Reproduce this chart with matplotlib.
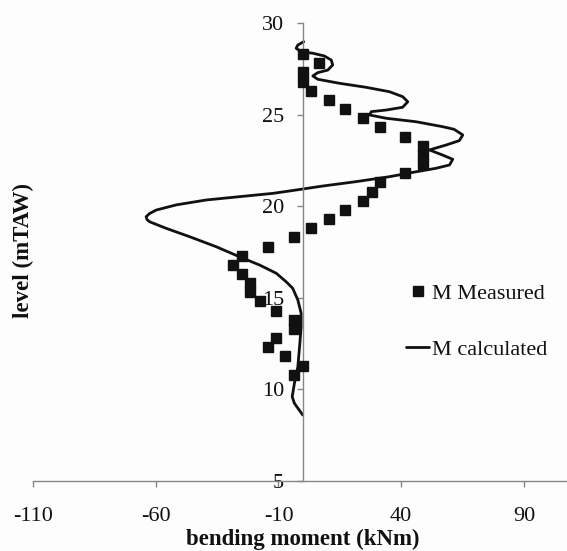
import matplotlib
matplotlib.use("Agg")
import matplotlib.pyplot as plt

# Measured bending moment (kNm) vs level (mTAW)
meas_level = [28.3, 27.8, 27.3, 26.8, 26.3, 25.8, 25.3, 24.8, 24.3, 23.8, 23.3, 22.8,
              22.3, 21.8, 21.3, 20.8, 20.3, 19.8, 19.3, 18.8, 18.3, 17.8, 17.3, 16.8,
              16.3, 15.8, 15.3, 14.8, 14.3, 13.8, 13.3, 12.8, 12.3, 11.8, 11.3, 10.8]
meas_moment = [0.0, 6.7, 0.0, 0.0, 3.3, 10.4, 17.3, 24.3, 31.4, 41.7, 48.9, 48.9,
               48.9, 41.7, 31.4, 28.0, 24.3, 17.3, 10.4, 3.3, -3.8, -14.4, -24.8, -28.5,
               -24.8, -21.4, -21.4, -17.7, -10.8, -3.8, -3.8, -10.8, -14.4, -7.3, 0.0, -3.8]

# Calculated bending moment curve
calc_level = [28.98, 28.8, 28.62, 28.43, 28.35, 28.2, 27.98, 27.71, 27.43, 27.29, 27.11,
              26.93, 26.71, 26.49, 26.25, 25.98, 25.7, 25.4, 25.25, 25.16, 24.98, 24.8,
              24.61, 24.34, 24.2, 23.89, 23.58, 23.34, 23.07, 22.79, 22.56, 22.25, 22.07,
              21.88, 21.61, 21.34, 21.1, 20.85, 20.7, 20.52, 20.34, 20.07, 19.79, 19.6,
              19.43, 19.28, 19.15, 18.79, 18.34, 17.79, 17.24, 16.79, 16.34, 15.88, 15.52,
              14.88, 14.15, 13.42, 12.33, 11.24, 10.33, 9.6, 9.24, 8.6]
calc_moment = [0.3, -2.1, -2.8, -0.75, 4.0, 8.7, 11.5, 12.1, 10.1, 6.0, 4.0,
               6.0, 14.8, 25.7, 35.2, 40.6, 42.7, 40.6, 33.9, 27.8, 27.1, 33.9,
               46.1, 56.9, 61.5, 65.1, 63.7, 58.3, 51.5, 56.9, 61.0, 59.7, 54.2,
               46.1, 35.2, 21.6, 8.0, -4.5, -12.3, -25.9, -39.4, -51.7, -59.8, -62.5,
               -63.9, -63.6, -62.5, -55.7, -46.3, -35.4, -25.9, -17.7, -10.9, -6.9, -4.2,
               -2.1, -0.75, -0.75, -1.4, -2.1, -3.5, -4.4, -3.5, -0.1]

x_ticks = [-110, -60, -10, 40, 90]
y_ticks = [5, 10, 15, 20, 25, 30]

plt.rcParams['font.family'] = ['Liberation Serif', 'DejaVu Serif']
plt.rcParams['axes.unicode_minus'] = False

W, H = 567, 551
fig = plt.figure(figsize=(W / 100, H / 100), dpi=100)
fig.patch.set_facecolor('#fdfdfd')

ax = fig.add_axes([33 / W, (H - 481) / H, 540 / W, 458 / H])
ax.set_facecolor('#fdfdfd')

ax.plot(meas_moment, meas_level, linestyle='none', marker='s', markersize=6.8,
        color='#111111', label='M Measured', zorder=3)
ax.plot(calc_moment, calc_level, color='#111111', linewidth=2.0,
        solid_joinstyle='round', solid_capstyle='round', label='M calculated', zorder=2)

ax.set_xlim(-110, 110)
ax.set_ylim(5, 30)
ax.set_xticks(x_ticks)
ax.set_yticks(y_ticks)

for s in ['top', 'right']:
    ax.spines[s].set_visible(False)
ax.spines['left'].set_position(('data', 0))
for s in ['left', 'bottom']:
    ax.spines[s].set_color('#878787')
    ax.spines[s].set_linewidth(1.0)

ax.tick_params(axis='both', colors='#878787', labelcolor='#111111', labelsize=16,
               length=4.5, width=1.0, direction='out')
ax.tick_params(axis='y', pad=9)
ax.tick_params(axis='x', pad=14)

fig.text(303 / W, 1 / H, 'bending moment (kNm)', ha='center', va='bottom',
         fontsize=16.5, fontweight='bold', color='#111111')
fig.text(23 / W, 1 - 251 / H, 'level (mTAW)', ha='center', va='center', rotation=90,
         fontsize=16.5, fontweight='bold', color='#111111')

leg = ax.legend(loc='upper left', bbox_to_anchor=(406 / W, 1 - 283 / H),
                bbox_transform=fig.transFigure, frameon=False, fontsize=16,
                handlelength=1.05, handletextpad=0.1, labelspacing=1.62,
                borderpad=0, borderaxespad=0, markerscale=1.0)
for t in leg.get_texts():
    t.set_color('#111111')

fig.savefig('out.png', dpi=100, facecolor=fig.get_facecolor())
